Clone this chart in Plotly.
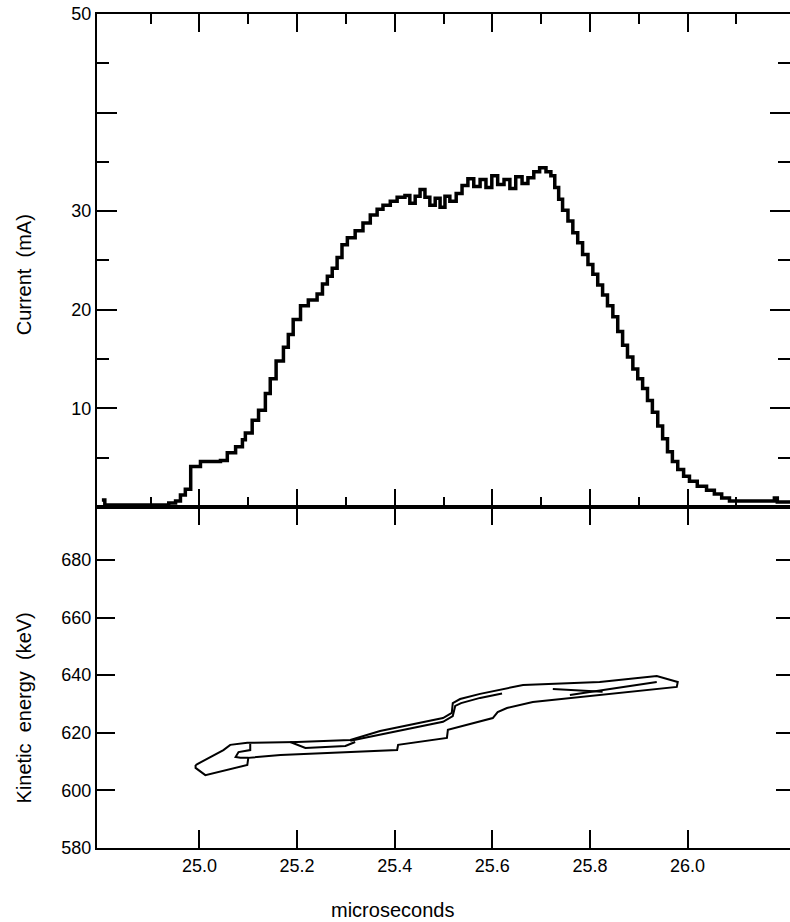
import plotly.graph_objects as go

# ---------------- Data ----------------
time_us = [24.800, 24.806, 24.937, 24.951, 24.961, 24.971, 24.982, 25.002, 25.043, 25.057,
           25.074, 25.088, 25.094, 25.108, 25.121, 25.135, 25.145, 25.157, 25.172, 25.182,
           25.192, 25.207, 25.223, 25.241, 25.252, 25.262, 25.272, 25.282, 25.292, 25.303,
           25.319, 25.335, 25.350, 25.364, 25.376, 25.391, 25.405, 25.421, 25.431, 25.442,
           25.452, 25.462, 25.472, 25.483, 25.493, 25.503, 25.513, 25.526, 25.538, 25.550,
           25.562, 25.575, 25.587, 25.599, 25.611, 25.624, 25.636, 25.648, 25.661, 25.673,
           25.685, 25.697, 25.710, 25.720, 25.728, 25.736, 25.744, 25.755, 25.765, 25.775,
           25.785, 25.796, 25.806, 25.816, 25.826, 25.836, 25.847, 25.857, 25.867, 25.877,
           25.888, 25.898, 25.908, 25.918, 25.928, 25.939, 25.949, 25.959, 25.969, 25.980,
           25.992, 26.004, 26.020, 26.039, 26.055, 26.070, 26.086, 26.178, 26.184, 26.210]
current_mA = [0.7, 0.2, 0.4, 0.6, 1.2, 1.8, 4.1, 4.6, 4.7, 5.5,
              6.1, 6.8, 7.5, 8.8, 9.8, 11.5, 13.0, 14.8, 16.2, 17.5,
              19.0, 20.4, 21.0, 21.6, 22.6, 23.4, 24.2, 25.3, 26.6, 27.3,
              28.0, 28.8, 29.6, 30.2, 30.6, 31.0, 31.4, 31.6, 30.8, 31.5,
              32.2, 31.4, 30.6, 31.3, 30.4, 31.5, 31.0, 31.8, 32.6, 33.3,
              32.5, 33.2, 32.4, 33.6, 32.7, 33.2, 32.3, 33.5, 32.8, 33.4,
              34.0, 34.4, 34.0, 33.6, 32.4, 31.2, 30.1, 29.0, 27.8, 26.8,
              25.6, 24.6, 23.6, 22.5, 21.5, 20.4, 19.3, 17.8, 16.4, 15.2,
              14.0, 13.0, 12.0, 10.8, 9.6, 8.2, 6.9, 5.6, 4.6, 3.8,
              3.1, 2.6, 2.1, 1.7, 1.3, 0.9, 0.6, 0.9, 0.5, 0.5]

# Kinetic-energy contour (outer outline, closed)
loop_t = [24.992, 25.049, 25.063, 25.098, 25.200, 25.309, 25.370, 25.438, 25.499, 25.517,
          25.519, 25.534, 25.575, 25.663, 25.820, 25.937, 25.980,
          25.978, 25.922, 25.826, 25.718, 25.683, 25.630, 25.611, 25.601, 25.528,
          25.509, 25.507, 25.407, 25.405, 25.303, 25.166, 25.100, 25.098, 25.012,
          24.992, 24.992]
loop_keV = [608.8, 614.0, 615.8, 616.5, 616.8, 617.5, 620.6, 623.1, 625.1, 626.9,
            630.3, 631.7, 633.5, 636.6, 637.6, 639.7, 637.6,
            635.9, 634.9, 633.1, 631.4, 630.7, 628.6, 627.2, 625.1, 622.0,
            621.0, 618.2, 615.8, 614.0, 613.3, 612.3, 611.3, 608.8, 605.3,
            607.8, 608.8]

# inner contour lines
notch_t = [25.104, 25.104, 25.080, 25.074, 25.084, 25.100]
notch_keV = [616.2, 614.0, 613.3, 611.6, 611.3, 611.3]

inner_upper_t = [25.309, 25.438, 25.499, 25.519, 25.524, 25.536, 25.575, 25.620]
inner_upper_keV = [617.2, 621.7, 623.8, 625.8, 629.3, 630.3, 632.1, 633.6]

inner_v_t = [25.186, 25.217, 25.299, 25.319]
inner_v_keV = [616.8, 614.7, 615.4, 616.8]

inner_right1_t = [25.724, 25.826]
inner_right1_keV = [635.2, 634.2]
inner_right2_t = [25.759, 25.937]
inner_right2_keV = [633.1, 637.6]

# ticks
x_major = [25.0, 25.2, 25.4, 25.6, 25.8, 26.0]
x_major_text = ["25.0", "25.2", "25.4", "25.6", "25.8", "26.0"]
x_minor = [24.9, 25.1, 25.3, 25.5, 25.7, 25.9, 26.1]
cur_major = [10, 20, 30, 40, 50]
cur_major_text = ["10", "20", "30", "", "50"]
cur_minor = [5, 15, 25, 35, 45]
ke_major = [580, 600, 620, 640, 660, 680]

# ---------------- Figure ----------------
FONT = "Liberation Sans, Arial, Helvetica, sans-serif"
fig = go.Figure()

fig.add_trace(go.Scatter(x=time_us, y=current_mA, mode="lines",
                         line=dict(color="black", width=3.5, shape="hv"),
                         xaxis="x", yaxis="y", hoverinfo="skip"))

line_style = dict(color="black", width=2)
for tx, ey in [(loop_t, loop_keV), (notch_t, notch_keV), (inner_upper_t, inner_upper_keV),
               (inner_v_t, inner_v_keV), (inner_right1_t, inner_right1_keV),
               (inner_right2_t, inner_right2_keV)]:
    fig.add_trace(go.Scatter(x=tx, y=ey, mode="lines", line=line_style,
                             xaxis="x2", yaxis="y2", hoverinfo="skip"))

# empty traces so the right-side tick axes are drawn
fig.add_trace(go.Scatter(x=[None], y=[None], xaxis="x", yaxis="y3", hoverinfo="skip"))
fig.add_trace(go.Scatter(x=[None], y=[None], xaxis="x2", yaxis="y4", hoverinfo="skip"))

XR = [24.79, 26.21]
common_axis = dict(showgrid=False, zeroline=False, linecolor="black", linewidth=2,
                   tickcolor="black", tickwidth=2)

fig.update_layout(
    width=790, height=922,
    margin=dict(l=97, r=0, t=14, b=74),
    paper_bgcolor="white", plot_bgcolor="white",
    showlegend=False,
    font=dict(family=FONT, color="black", size=18),
    xaxis=dict(domain=[0, 1], anchor="y", range=XR, showline=True, mirror="ticks",
               ticks="inside", ticklen=18, tickmode="array", tickvals=x_major,
               showticklabels=False,
               minor=dict(tickmode="array", tickvals=x_minor, ticks="inside", ticklen=10,
                          tickwidth=2, tickcolor="black", showgrid=False),
               **common_axis),
    xaxis2=dict(domain=[0, 1], anchor="y2", range=XR, matches="x", showline=True,
                mirror="ticks", ticks="inside", ticklen=18, tickmode="array",
                tickvals=x_major, ticktext=x_major_text,
                tickfont=dict(size=18, family=FONT, color="black"),
                **common_axis),
    yaxis=dict(domain=[0.409, 1], anchor="x", range=[0, 50], showline=True,
               ticks="inside", ticklen=20, tickmode="array", tickvals=cur_major,
               ticktext=cur_major_text, tickfont=dict(size=18, family=FONT, color="black"),
               minor=dict(tickmode="array", tickvals=cur_minor, ticks="inside", ticklen=12,
                          tickwidth=2, tickcolor="black", showgrid=False),
               **common_axis),
    yaxis3=dict(overlaying="y", anchor="x", side="right", range=[0, 50], showline=False,
                ticks="inside", ticklen=20, tickmode="array", tickvals=cur_major,
                showticklabels=False,
                minor=dict(tickmode="array", tickvals=cur_minor, ticks="inside", ticklen=12,
                           tickwidth=2, tickcolor="black", showgrid=False),
                showgrid=False, zeroline=False, tickcolor="black", tickwidth=2),
    yaxis2=dict(domain=[0, 0.409], anchor="x2", range=[580, 698.4], showline=True,
                ticks="inside", ticklen=18, tickmode="array", tickvals=ke_major,
                tickfont=dict(size=18, family=FONT, color="black"),
                **common_axis),
    yaxis4=dict(overlaying="y2", anchor="x2", side="right", range=[580, 698.4],
                showline=False, ticks="inside", ticklen=14, tickmode="array",
                tickvals=ke_major, showticklabels=False,
                showgrid=False, zeroline=False, tickcolor="black", tickwidth=2),
    annotations=[
        dict(text="Current\u00a0 (mA)", textangle=-90, xref="paper", yref="paper",
             x=-0.105, y=0.687, xanchor="center", yanchor="middle", showarrow=False,
             font=dict(size=20, family=FONT, color="black")),
        dict(text="Kinetic\u00a0 energy\u00a0 (keV)", textangle=-90, xref="paper", yref="paper",
             x=-0.106, y=0.168, xanchor="center", yanchor="middle", showarrow=False,
             font=dict(size=20, family=FONT, color="black")),
        dict(text="microseconds", xref="paper", yref="paper",
             x=0.427, y=-0.074, xanchor="center", yanchor="middle", showarrow=False,
             font=dict(size=20, family=FONT, color="black")),
    ],
)

fig.write_html("out.html", config={"displayModeBar": False},
               post_script="document.body.style.margin='0px';")
